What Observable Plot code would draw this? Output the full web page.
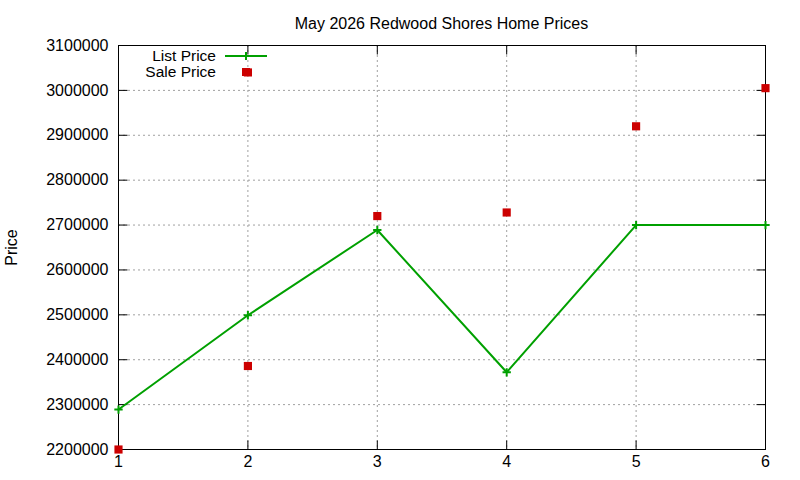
<!DOCTYPE html>
<html>
<head>
<meta charset="utf-8">
<script src="https://cdn.jsdelivr.net/npm/d3@7"></script>
<script src="https://cdn.jsdelivr.net/npm/@observablehq/plot@0.6"></script>
<style>
  body { margin: 0; background: #fff; }
  #wrap { position: relative; width: 800px; height: 480px; font-family: "Liberation Sans", Arial, sans-serif; }
  #title { box-sizing: border-box; width: 800px; height: 34px; padding: 15px 35px 0 118px; line-height: 18px; font-size: 16px; text-align: center; color: #000; }
  #legend { position: absolute; left: 0; top: 0; pointer-events: none; }
</style>
</head>
<body>
<div id="wrap">
  <div id="title">May 2026 Redwood Shores Home Prices</div>
  <div id="chart"></div>
  <svg id="legend" width="800" height="100"></svg>
</div>
<script>
// ---- data ----
const seriesNames = ["List Price", "Sale Price"];
const listX = [1, 2, 3, 4, 5, 6];
const listPrice = [2289000, 2499000, 2689000, 2372000, 2700000, 2700000];
const saleX = [1, 2, 2, 3, 4, 5, 6];
const salePrice = [2200000, 3040000, 2386000, 2720000, 2728000, 2920000, 3005000];
const xTicks = [1, 2, 3, 4, 5, 6];
const yTicks = [2200000, 2300000, 2400000, 2500000, 2600000, 2700000, 2800000, 2900000, 3000000, 3100000];
const yLabel = "Price";

const green = "#00a000";
const red = "#cc0000";
const gridStyle = {stroke: "#a0a0a0", strokeOpacity: 1, strokeDasharray: "2,3"};

const listData = listX.map((x, i) => ({x, y: listPrice[i]}));
const saleData = saleX.map((x, i) => ({x, y: salePrice[i]}));

// inward tick symbols (gnuplot style)
const T = 9;
const tickLeft = {draw(c) { c.moveTo(0, 0); c.lineTo(T, 0); }};
const tickRight = {draw(c) { c.moveTo(0, 0); c.lineTo(-T, 0); }};
const tickBottom = {draw(c) { c.moveTo(0, 0); c.lineTo(0, -T); }};
const tickTop = {draw(c) { c.moveTo(0, 0); c.lineTo(0, T); }};
const tickStyle = {stroke: "#000", strokeWidth: 1, fill: "none"};

const chart = Plot.plot({
  width: 800,
  height: 446,
  marginLeft: 118,
  marginRight: 35,
  marginTop: 11,
  marginBottom: 31,
  style: {fontFamily: "'Liberation Sans', Arial, sans-serif", fontSize: "16px", color: "#000", background: "#fff", overflow: "visible"},
  x: {domain: [1, 6]},
  y: {domain: [2200000, 3100000]},
  marks: [
    Plot.gridX(xTicks.slice(1, -1), gridStyle),
    Plot.gridY(yTicks.slice(1, -1), gridStyle),
    Plot.frame({stroke: "#000"}),
    Plot.axisY(yTicks, {anchor: "left", tickSize: 0, tickPadding: 10, tickFormat: d => String(d),
      label: yLabel, labelAnchor: "center", labelArrow: "none", labelOffset: 113}),
    Plot.axisX(xTicks, {anchor: "bottom", tickSize: 0, tickPadding: 6, tickFormat: d => String(d), label: null}),
    Plot.dot(yTicks.slice(1, -1), {y: d => d, frameAnchor: "left", symbol: tickLeft, ...tickStyle}),
    Plot.dot(yTicks.slice(1, -1), {y: d => d, frameAnchor: "right", symbol: tickRight, ...tickStyle}),
    Plot.dot(xTicks.slice(1, -1), {x: d => d, frameAnchor: "bottom", symbol: tickBottom, ...tickStyle}),
    Plot.dot(xTicks.slice(1, -1), {x: d => d, frameAnchor: "top", symbol: tickTop, ...tickStyle}),
    Plot.line(listData, {x: "x", y: "y", stroke: green, strokeWidth: 2}),
    Plot.dot(listData, {x: "x", y: "y", symbol: "plus", r: 2.8, stroke: green, strokeWidth: 2}),
    Plot.dot(saleData, {x: "x", y: "y", symbol: "square", r: 4.6, fill: red, stroke: "none"})
  ]
});
document.getElementById("chart").appendChild(chart);

// ---- legend (inside plot area, top-left) ----
const lg = d3.select("#legend");
const rows = [
  {name: seriesNames[0], kind: "line", y: 56},
  {name: seriesNames[1], kind: "square", y: 72}
];
rows.forEach(r => {
  lg.append("text").attr("x", 216).attr("y", r.y + 4.5).attr("text-anchor", "end")
    .attr("font-family", "'Liberation Sans', Arial, sans-serif").attr("font-size", 15.5).attr("fill", "#000").text(r.name);
  if (r.kind === "line") {
    lg.append("line").attr("x1", 225).attr("x2", 267).attr("y1", r.y).attr("y2", r.y).attr("stroke", green).attr("stroke-width", 2);
    lg.append("path").attr("d", `M242,${r.y}h8M246,${r.y - 4}v8`).attr("stroke", green).attr("stroke-width", 2);
  } else {
    lg.append("rect").attr("x", 242).attr("y", r.y - 4).attr("width", 8).attr("height", 8).attr("fill", red);
  }
});
</script>
</body>
</html>
